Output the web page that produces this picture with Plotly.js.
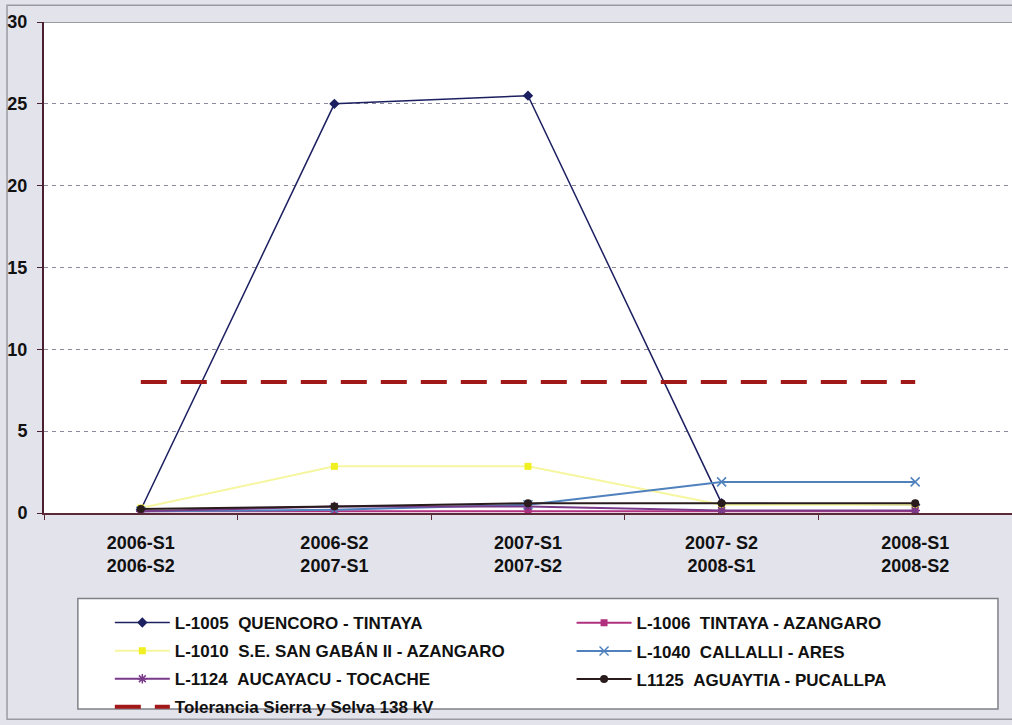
<!DOCTYPE html>
<html><head><meta charset="utf-8">
<script src="https://cdn.plot.ly/plotly-3.0.1.min.js"></script>
<style>body{margin:0;padding:0;background:#e3e3eb;}#chart{width:1012px;height:725px;}</style>
</head><body><div id="chart"></div>
<script>
const categories = ["2006-S1<br>2006-S2", "2006-S2<br>2007-S1", "2007-S1<br>2007-S2", "2007- S2<br>2008-S1", "2008-S1<br>2008-S2"];
const l1005 = [0.2, 25.0, 25.5, 0.6, 0.5];
const l1006 = [0.1, 0.1, 0.1, 0.1, 0.1];
const l1010 = [0.3, 2.85, 2.85, 0.5, 0.5];
const l1040 = [0.1, 0.2, 0.5, 1.9, 1.9];
const l1124 = [0.1, 0.4, 0.4, 0.15, 0.15];
const l1125 = [0.25, 0.4, 0.6, 0.6, 0.6];
const tolerancia = [8, 8, 8, 8, 8];
const names = ["L-1005\u00a0\u00a0QUENCORO - TINTAYA", "L-1006\u00a0\u00a0TINTAYA - AZANGARO",
  "L-1010\u00a0\u00a0S.E. SAN GABÁN II - AZANGARO", "L-1040\u00a0\u00a0CALLALLI - ARES",
  "L-1124\u00a0\u00a0AUCAYACU - TOCACHE", "L1125\u00a0\u00a0AGUAYTIA - PUCALLPA",
  "Tolerancia Sierra y Selva 138 kV"];

const traces = [
  {x: categories, y: l1005, name: names[0], legend: "legend", legendgroup: "a", mode: "lines+markers", line: {color: "#1c2060", width: 1.5}, marker: {symbol: "diamond", size: 8, color: "#1c2060"}},
  {x: categories, y: l1006, name: names[1], legend: "legend2", legendgroup: "b", mode: "lines+markers", line: {color: "#b0307f", width: 2}, marker: {symbol: "square", size: 7, color: "#b0307f"}},
  {x: categories, y: l1010, name: names[2], legend: "legend", legendgroup: "c", mode: "lines+markers", line: {color: "#f6f6a0", width: 2}, marker: {symbol: "square", size: 7, color: "#f0f020"}},
  {x: categories, y: l1040, name: names[3], legend: "legend2", legendgroup: "d", mode: "lines+markers", line: {color: "#4f81bd", width: 2}, marker: {symbol: "x-thin-open", size: 9, color: "#4f81bd", line: {color: "#4f81bd", width: 1.5}}},
  {x: categories, y: l1124, name: names[4], legend: "legend", legendgroup: "e", mode: "lines+markers", line: {color: "#7a3a8a", width: 2}, marker: {symbol: "asterisk-open", size: 8, color: "#7a3a8a", line: {color: "#7a3a8a", width: 1.5}}},
  {x: categories, y: l1125, name: names[5], legend: "legend2", legendgroup: "f", mode: "lines+markers", line: {color: "#2a1c1c", width: 2}, marker: {symbol: "circle", size: 8, color: "#2a1c1c"}},
  {x: categories, y: tolerancia, name: names[6], legend: "legend", legendgroup: "g", mode: "lines", line: {color: "#a01818", width: 4, dash: "26px,14px"}}
];

const legendBase = {
  orientation: "v", yanchor: "top", xanchor: "left",
  bgcolor: "rgba(0,0,0,0)", borderwidth: 0,
  font: {size: 17, weight: "bold", color: "#111"},
  itemwidth: 55, traceorder: "grouped", tracegroupgap: 3
};

const layout = {
  width: 1012, height: 725,
  paper_bgcolor: "#e3e3eb", plot_bgcolor: "#ffffff",
  margin: {l: 44, r: 0, t: 22, b: 202},
  font: {family: "Liberation Sans, Arial, sans-serif", color: "#111111"},
  showlegend: true,
  xaxis: {
    type: "category", range: [-0.5, 4.5], showgrid: false, zeroline: false,
    showline: true, linecolor: "#5a2a38", linewidth: 2,
    ticks: "outside", ticklen: 5, tickcolor: "#5a2a38", tickson: "boundaries",
    ticklabelstandoff: 12,
    tickfont: {size: 18, weight: "bold", color: "#111"}
  },
  yaxis: {
    range: [0, 30], dtick: 5, showgrid: true, gridcolor: "#8a8a9a", griddash: "4px,4px", gridwidth: 1,
    zeroline: false, showline: true, linecolor: "#4a2030", linewidth: 2,
    ticks: "outside", ticklen: 5, tickcolor: "#4a2030", ticklabelstandoff: 6,
    tickfont: {size: 18, weight: "bold", color: "#111"}
  },
  shapes: [
    {type: "rect", xref: "paper", yref: "paper", x0: -0.0382, x1: 1.01, y0: -0.42, y1: 1.034, line: {color: "#9a9aa4", width: 1.5}, layer: "below"},
    {type: "line", xref: "paper", yref: "y", x0: 0, x1: 1, y0: 30, y1: 30, line: {color: "#777780", width: 1.5}},
    {type: "rect", xref: "paper", yref: "paper", x0: 0.035, x1: 0.9855, y0: -0.399, y1: -0.174, fillcolor: "#ffffff", line: {color: "#808088", width: 1.5}}
  ],
  legend: Object.assign({}, legendBase, {x: 0.068, y: -0.188}),
  legend2: Object.assign({}, legendBase, {x: 0.545, y: -0.188})
};
Plotly.newPlot("chart", traces, layout, {displayModeBar: false, staticPlot: true});
</script>
</body></html>
